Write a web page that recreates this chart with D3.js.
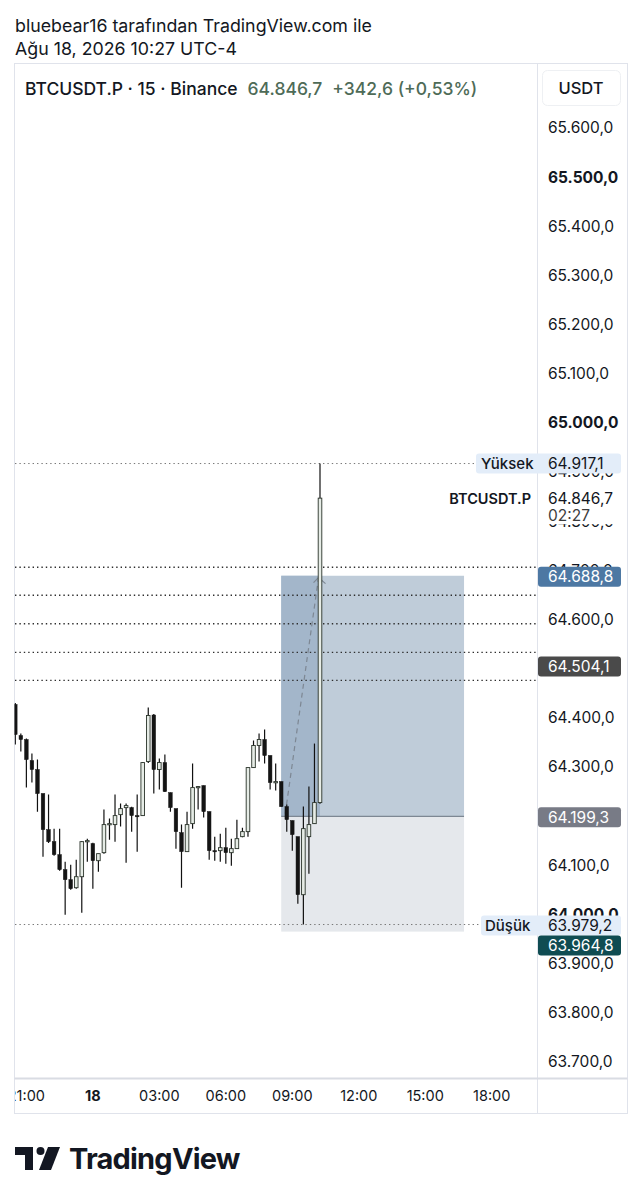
<!DOCTYPE html>
<html><head><meta charset="utf-8">
<script src="https://cdn.jsdelivr.net/npm/d3@7"></script>
<style>
html,body{margin:0;padding:0;background:#fff;}
svg{display:block;font-family:Inter,"Noto Sans",sans-serif;}
</style></head>
<body>
<svg id="c" width="642" height="1200"></svg>
<script>
// ---------- DATA ----------
const times = ["20:30","20:45","21:00","21:15","21:30","21:45","22:00","22:15","22:30","22:45","23:00","23:15","23:30","23:45",
"00:00","00:15","00:30","00:45","01:00","01:15","01:30","01:45","02:00","02:15","02:30","02:45","03:00","03:15",
"03:30","03:45","04:00","04:15","04:30","04:45","05:00","05:15","05:30","05:45","06:00","06:15","06:30","06:45",
"07:00","07:15","07:30","07:45","08:00","08:15","08:30","08:45","09:00","09:15","09:30","09:45","10:00","10:15"];
const open  = [64426.9,64363.7,64355.6,64312.8,64294.5,64245.6,64172.3,64147.8,64121.4,64090.8,64070.4,64054.1,64076.5,64147.8,
64143.8,64109.1,64125.4,64182.5,64182.5,64202.8,64217.0,64217.1,64200.8,64200.8,64310.8,64405.5,64294.5,64308.7,
64247.6,64215.0,64166.2,64127.5,64184.5,64259.9,64261.9,64208.9,64129.5,64129.5,64135.6,64125.4,64133.6,64158.0,
64168.2,64298.5,64343.4,64355.6,64323.0,64270.0,64270.0,64219.1,64190.6,64158.0,64039.9,64158.0,64184.5,64227.3];
const high  = [64430.0,64367.8,64357.6,64327.1,64314.8,64245.6,64243.6,64174.3,64174.3,64107.1,64101.0,64111.2,64149.0,64153.9,
64145.8,64123.4,64213.0,64194.7,64243.6,64225.2,64225.2,64219.0,64243.6,64310.0,64420.8,64407.5,64316.9,64325.0,
64247.6,64215.0,64182.5,64208.9,64306.7,64261.0,64262.0,64209.0,64158.0,64164.1,64176.3,64153.9,64192.6,64176.3,
64298.5,64353.5,64367.8,64375.9,64323.0,64306.7,64270.0,64223.2,64190.6,64158.0,64219.1,64259.9,64347.4,64917.1];
const low   = [64345.4,64331.1,64257.8,64268.0,64208.9,64117.3,64145.0,64119.0,64088.8,63999.2,64050.1,64052.0,64003.2,64107.1,
64052.1,64086.7,64123.0,64151.9,64147.8,64178.4,64105.1,64168.2,64127.5,64200.0,64308.0,64245.6,64253.7,64249.0,
64208.9,64133.6,64054.1,64127.0,64174.3,64213.0,64196.7,64111.2,64109.1,64107.1,64103.0,64099.0,64133.0,64157.0,
64158.0,64298.0,64310.8,64306.7,64253.7,64251.7,64219.0,64168.2,64129.5,64021.6,63979.2,64082.7,64184.0,64225.0];
const close = [64365.8,64355.6,64314.8,64294.5,64245.6,64172.3,64147.8,64121.4,64090.8,64070.4,64052.1,64076.5,64147.8,64149.9,
64109.1,64123.4,64182.5,64184.5,64200.8,64215.0,64221.2,64200.8,64200.0,64308.7,64404.5,64294.5,64308.7,64249.7,
64217.1,64168.2,64127.5,64182.5,64257.8,64259.9,64208.9,64129.5,64129.0,64135.6,64125.4,64133.6,64153.9,64168.2,
64298.5,64343.4,64355.6,64323.0,64268.0,64270.0,64219.1,64192.6,64162.1,64039.9,64174.3,64182.5,64227.3,64846.7];

// tick labels visible on the price scale (64.500 and 64.200 are fully hidden by the price boxes)
const priceTicks = [65600,65500,65400,65300,65200,65100,65000,64900,64800,64700,64600,64400,64300,64100,64000,63900,63800,63700];
const boldTicks = [65500,65000,64000];
const timeTicks = [["2026-08-17T21:00","21:00",false],["2026-08-18T00:00","18",true],["2026-08-18T03:00","03:00",false],
["2026-08-18T06:00","06:00",false],["2026-08-18T09:00","09:00",false],["2026-08-18T12:00","12:00",false],
["2026-08-18T15:00","15:00",false],["2026-08-18T18:00","18:00",false]];
const hLevels = [64706.0,64649.0,64591.0,64533.0,64476.0];
const dayHigh = 64917.1, dayLow = 63979.2;
const lastPrice = 64846.7, prevClose = 64504.1;
const posEntry = 64199.3, posTarget = 64688.8, posStop = 63964.8;
const posStart = "2026-08-18T08:30", posEnd = "2026-08-18T16:45", posNow = "2026-08-18T10:15";
const arrowPts = [["2026-08-18T08:41",64205.0],["2026-08-18T10:11",64685.0]];

// ---------- SCALES ----------
const T = s => new Date(s + ":00Z");
const dayOf = t => (t < "20:00" ? "2026-08-18T" : "2026-08-17T") + t;
const x = d3.scaleUtc().domain([T("2026-08-17T20:30"), T("2026-08-18T10:15")]).range([15.3, 320]);
const y = d3.scaleLinear().domain([63700, 65600]).range([1061.75, 127.9]);

const svg = d3.select("#c");
const defs = svg.append("defs");
defs.append("clipPath").attr("id","plot").append("rect").attr("x",14.5).attr("y",110).attr("width",523).attr("height",968);
defs.append("clipPath").attr("id","taxis").append("rect").attr("x",15).attr("y",1079).attr("width",522).attr("height",34);

// header
svg.append("text").attr("x",15).attr("y",32).attr("font-size",17.8).attr("fill","#131722").text("bluebear16 tarafından TradingView.com ile");
svg.append("text").attr("x",15).attr("y",55).attr("font-size",17.8).attr("fill","#131722").text("Ağu 18, 2026 10:27 UTC-4");

// frame
const fr = svg.append("g").attr("fill","none").attr("stroke","#e0e3eb").attr("stroke-width",1);
fr.append("rect").attr("x",14.5).attr("y",63.5).attr("width",613).attr("height",1050);
fr.append("line").attr("x1",537.5).attr("x2",537.5).attr("y1",63.5).attr("y2",1113.5);
fr.append("line").attr("x1",14.5).attr("x2",627.5).attr("y1",1078.5).attr("y2",1078.5).attr("stroke","#d9dce3").attr("stroke-width",2);

const fmt = v => d3.format(",.1f")(v).replace(/,/g,"#").replace(".",",").replace(/#/g,".");

// legend
const lg = svg.append("text").attr("x",25).attr("y",94.5).attr("font-size",17.5).attr("font-weight",500);
lg.append("tspan").attr("fill","#131722").text("BTCUSDT.P · 15 · Binance");
lg.append("tspan").attr("fill","#4e6b57").attr("dx",10).text(fmt(lastPrice));
lg.append("tspan").attr("fill","#4e6b57").attr("dx",10).text("+342,6 (+0,53%)");
svg.append("rect").attr("x",542.5).attr("y",70.5).attr("width",78).attr("height",35).attr("rx",5).attr("fill","#fff").attr("stroke","#eef0f3");
svg.append("text").attr("x",581).attr("y",94).attr("text-anchor","middle").attr("font-size",16.5).attr("font-weight",500).attr("fill","#131722").text("USDT");

// price axis ticks
svg.append("g").selectAll("text").data(priceTicks).join("text")
  .attr("x",548).attr("y",d=>y(d)+5.5).attr("font-size",15.5)
  .attr("font-weight",d=>boldTicks.includes(d)?700:400).attr("fill","#131722").text(fmt);

// position box
const plot = svg.append("g").attr("clip-path","url(#plot)");
const x0 = x(T(posStart)), x1 = x(T(posEnd)), xn = x(T(posNow));
plot.append("rect").attr("x",x0).attr("y",y(posTarget)).attr("width",x1-x0).attr("height",y(posEntry)-y(posTarget)).attr("fill","#bfccd9");
plot.append("rect").attr("x",x0).attr("y",y(posEntry)).attr("width",x1-x0).attr("height",y(posStop)-y(posEntry)).attr("fill","#e5e8ec");
plot.append("rect").attr("x",x0).attr("y",y(posTarget)).attr("width",xn-x0).attr("height",y(posEntry)-y(posTarget)).attr("fill","#a3b6ca");
plot.append("line").attr("x1",x0).attr("x2",x1).attr("y1",y(posEntry)).attr("y2",y(posEntry)).attr("stroke","#7d8793").attr("stroke-width",1.2);

// dotted levels
const dots = plot.append("g").attr("stroke","#2e2e2e").attr("stroke-width",1.4).attr("stroke-dasharray","1.4,3");
hLevels.forEach(p=>dots.append("line").attr("x1",15).attr("x2",537).attr("y1",y(p)).attr("y2",y(p)));
dots.append("line").attr("x1",15).attr("x2",476).attr("y1",y(dayHigh)).attr("y2",y(dayHigh)).attr("stroke","#777").attr("stroke-width",1);
dots.append("line").attr("x1",15).attr("x2",481).attr("y1",y(dayLow)).attr("y2",y(dayLow)).attr("stroke","#777").attr("stroke-width",1);

// dashed arrow
const ap = arrowPts.map(([t,p])=>[x(T(t)),y(p)]);
plot.append("path").attr("d",d3.line()(ap)).attr("stroke","#7d8793").attr("stroke-width",1.2).attr("stroke-dasharray","5,4").attr("fill","none");
const [ax,ay] = ap[1];
plot.append("path").attr("d",`M${ax-5},${ay+5}L${ax},${ay}L${ax+7},${ay+6}`).attr("stroke","#7d8793").attr("stroke-width",1.2).attr("fill","none");

// candles
const bw = 3.6;
const cg = plot.append("g");
times.forEach((t,i)=>{
  const cx = x(T(dayOf(t)));
  const up = close[i] >= open[i];
  cg.append("line").attr("x1",cx).attr("x2",cx).attr("y1",y(high[i])).attr("y2",y(low[i])).attr("stroke","#111").attr("stroke-width",1.2);
  const top = y(Math.max(open[i],close[i])), bot = y(Math.min(open[i],close[i]));
  cg.append("rect").attr("x",cx-bw/2).attr("y",top).attr("width",bw).attr("height",Math.max(1.2,bot-top))
    .attr("fill",up?"#e6ece6":"#141414").attr("stroke",up?"#2a332a":"#141414").attr("stroke-width",up?0.9:0.5);
});

// axis label boxes
function axisBox(p, fill, txtColor, yOff){
  const yy = y(p) + (yOff||0);
  svg.append("rect").attr("x",538).attr("y",yy-10).attr("width",83).attr("height",20).attr("rx",3).attr("fill",fill);
  svg.append("text").attr("x",548).attr("y",yy+5.5).attr("font-size",15.5).attr("fill",txtColor).text(fmt(p));
}
// high/low
svg.append("rect").attr("x",476).attr("y",y(dayHigh)-10).attr("width",145).attr("height",20).attr("rx",3).attr("fill","#e3edf9");
svg.append("text").attr("x",481).attr("y",y(dayHigh)+5.5).attr("font-size",15).attr("font-weight",500).attr("fill","#131722").text("Yüksek");
svg.append("text").attr("x",548).attr("y",y(dayHigh)+5.5).attr("font-size",15.5).attr("fill","#131722").text(fmt(dayHigh));
svg.append("rect").attr("x",481).attr("y",y(dayLow)-9).attr("width",140).attr("height",20).attr("rx",3).attr("fill","#e3edf9");
svg.append("text").attr("x",485).attr("y",y(dayLow)+6.5).attr("font-size",15).attr("font-weight",500).attr("fill","#131722").text("Düşük");
svg.append("text").attr("x",548).attr("y",y(dayLow)+6.5).attr("font-size",15.5).attr("fill","#131722").text(fmt(dayLow));

// last price
svg.append("rect").attr("x",538).attr("y",y(lastPrice)-11).attr("width",83).attr("height",37).attr("fill","#fff");
svg.append("text").attr("x",548).attr("y",y(lastPrice)+5.5).attr("font-size",15.5).attr("fill","#131722").text(fmt(lastPrice));
svg.append("text").attr("x",548).attr("y",y(lastPrice)+22.5).attr("font-size",15.5).attr("fill","#3c3c3c").text("02:27");
svg.append("text").attr("x",531).attr("y",y(lastPrice)+5.5).attr("text-anchor","end").attr("font-size",14.5).attr("font-weight",600).attr("fill","#131722").text("BTCUSDT.P");

axisBox(posTarget,"#4d78a3","#fff",1);
axisBox(prevClose,"#4a4a4a","#fff",0);
axisBox(posEntry,"#787b86","#fff",1);
axisBox(posStop,"#0f4c52","#fff",14);

// time axis
svg.append("g").attr("clip-path","url(#taxis)").selectAll("text").data(timeTicks).join("text")
  .attr("x",d=>x(T(d[0]))).attr("y",1101).attr("text-anchor","middle").attr("font-size",14.5)
  .attr("font-weight",d=>d[2]?700:400).attr("fill","#131722").text(d=>d[1]);

// logo
const logo = svg.append("g").attr("fill","#131722");
logo.append("path").attr("d","M15,1147H33V1170H25V1155H15Z");
logo.append("circle").attr("cx",40.5).attr("cy",1151).attr("r",4);
logo.append("path").attr("d","M48,1147H60L51,1170H39Z");
svg.append("text").attr("x",69).attr("y",1169).attr("font-size",29).attr("font-weight",700).attr("letter-spacing",-0.8).attr("fill","#131722").text("TradingView");
</script>
</body></html>
